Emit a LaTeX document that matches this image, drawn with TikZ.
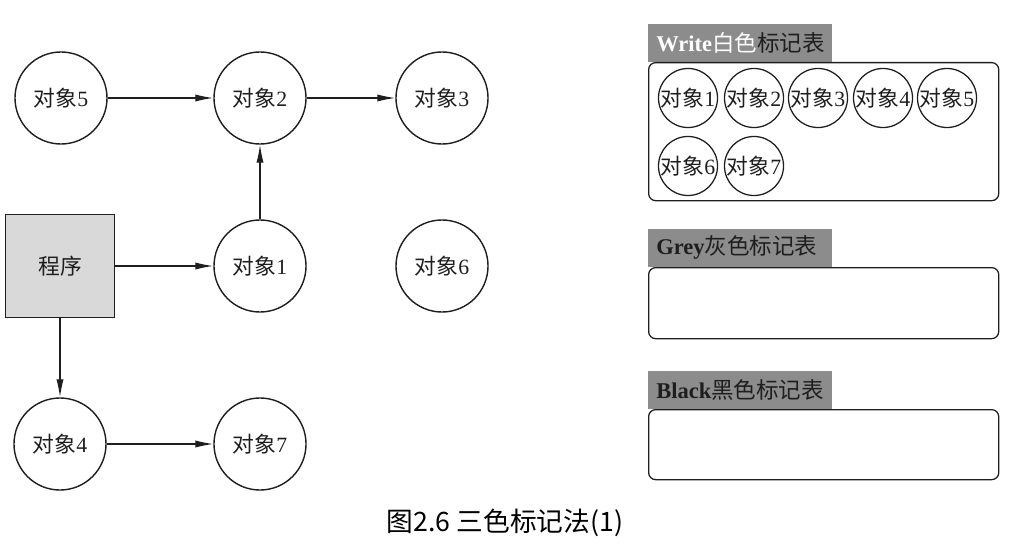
\documentclass[tikz,border=0pt]{standalone}
\usepackage{fontspec}
\setmainfont{Liberation Serif}
\newfontfamily\cjk{Noto Sans CJK SC}
\usepackage{xcolor}
\usepackage{tikz}
\definecolor{boxgrey}{RGB}{217,217,217}
\definecolor{headgrey}{RGB}{140,140,140}
\definecolor{inkgrey}{RGB}{30,30,30}
\usetikzlibrary{arrows.meta}
\newcommand{\objlabel}[1]{{\cjk 对象}#1}

\begin{document}
\begin{tikzpicture}[x=0.025cm, y=-0.025cm,
    font=\fontsize{15.5}{18}\selectfont, text=inkgrey,
    obj/.style={circle, draw=inkgrey, line width=1pt, minimum size=2.3cm, inner sep=0pt},
    smallobj/.style={circle, draw=inkgrey, line width=0.9pt, minimum size=1.475cm, inner sep=0pt},
    link/.style={draw=inkgrey, line width=0.9pt, -{Latex[length=4.5mm, width=1.8mm]}},
    tablehead/.style={fill=headgrey, anchor=south west, minimum width=4.6cm, minimum height=0.95cm,
        inner xsep=0.2cm, text width=4.2cm, align=left, font=\fontsize{16}{19}\selectfont},
    tablebox/.style={draw=inkgrey, line width=0.9pt, rounded corners=5pt, anchor=north west, minimum width=8.75cm}]
    \useasboundingbox (0,0) rectangle (1023,551);
    % Object graph
    \node[rectangle, draw=inkgrey, line width=1pt, fill=boxgrey, minimum width=2.725cm, minimum height=2.575cm] (prog) at (60,266) {\cjk 程序};
    \node[obj] (o5) at (61,98) {\objlabel{5}};
    \node[obj] (o2) at (260,98) {\objlabel{2}};
    \node[obj] (o3) at (442,98) {\objlabel{3}};
    \node[obj] (o1) at (260,266) {\objlabel{1}};
    \node[obj] (o6) at (442,266) {\objlabel{6}};
    \node[obj] (o4) at (60,444) {\objlabel{4}};
    \node[obj] (o7) at (260,444) {\objlabel{7}};
    \draw[link] (o5) -- (o2);
    \draw[link] (o2) -- (o3);
    \draw[link] (o1) -- (o2);
    \draw[link] (prog) -- (o1);
    \draw[link] (prog) -- (o4);
    \draw[link] (o4) -- (o7);
    % Mark tables
    \node[tablehead] (whitehead) at (648,62) {\textbf{\color{white}Write}{\cjk\color{white}白色}{\cjk 标记表}};
    \node[tablebox, minimum height=3.45cm] (whitebox) at (648,62) {};
    \node[tablehead] (greyhead) at (648,267) {\textbf{Grey}{\cjk 灰色标记表}};
    \node[tablebox, minimum height=1.775cm] (greybox) at (648,267) {};
    \node[tablehead] (blackhead) at (648,409) {\textbf{Black}{\cjk 黑色标记表}};
    \node[tablebox, minimum height=1.75cm] (blackbox) at (648,409) {};
    % White table contents
    \node[smallobj] (w1) at (688,98) {\objlabel{1}};
    \node[smallobj] (w2) at (754,98) {\objlabel{2}};
    \node[smallobj] (w3) at (818,98) {\objlabel{3}};
    \node[smallobj] (w4) at (883,98) {\objlabel{4}};
    \node[smallobj] (w5) at (947,98) {\objlabel{5}};
    \node[smallobj] (w6) at (688,166) {\objlabel{6}};
    \node[smallobj] (w7) at (754,166) {\objlabel{7}};
    % Caption
    \node[text=black, font=\fontsize{19}{22}\selectfont] (caption) at (505,523) {\cjk 图2.6 三色标记法(1)};
\end{tikzpicture}
\end{document}
